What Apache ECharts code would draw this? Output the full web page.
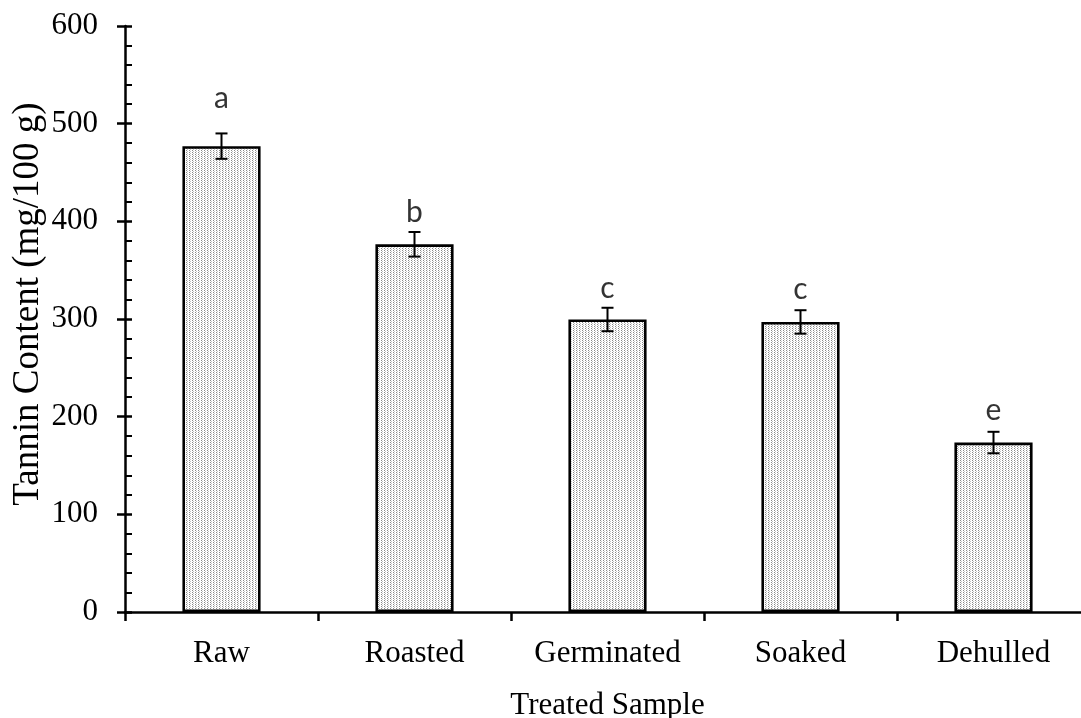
<!DOCTYPE html>
<html>
<head>
<meta charset="utf-8">
<script src="https://cdn.jsdelivr.net/npm/echarts@6/dist/echarts.min.js"></script>
<style>
html,body{margin:0;padding:0;background:#fff;}
#chart{width:1081px;height:718px;}
</style>
</head>
<body>
<div id="chart"></div>
<script>
// ---- data ----
const categories = ['Raw', 'Roasted', 'Germinated', 'Soaked', 'Dehulled'];
const tanninMeans = [477, 376.5, 299.5, 297, 173.5];
const tanninErrors = [13, 12.6, 12, 12, 11];
const significanceLetters = ['a', 'b', 'c', 'c', 'e'];
const letterPositions = [526, 409, 331, 330, 207];
const yTicks = [0, 100, 200, 300, 400, 500, 600];

// dotted fill pattern
function makePattern() {
  const c = document.createElement('canvas');
  c.width = 3; c.height = 2;
  const ctx = c.getContext('2d');
  ctx.fillStyle = '#ffffff';
  ctx.fillRect(0, 0, 3, 2);
  ctx.fillStyle = '#8a8a8a';
  ctx.fillRect(0, 0, 1, 1);
  ctx.fillStyle = '#c4c4c4';
  ctx.fillRect(1, 1, 1, 1);
  return c;
}

const serif = '"Liberation Serif", "Times New Roman", serif';
const chart = echarts.init(document.getElementById('chart'), null, {renderer: 'canvas'});

const option = {
  animation: false,
  backgroundColor: '#ffffff',
  grid: {left: 125, width: 965, top: 26, bottom: 106, containLabel: false, outerBoundsMode: 'none'},
  xAxis: {
    type: 'category',
    data: categories,
    name: 'Treated Sample',
    nameLocation: 'middle',
    nameGap: 78,
    nameMoveOverlap: false,
    nameTextStyle: {fontFamily: serif, fontSize: 31, color: '#000'},
    axisLine: {show: true, lineStyle: {color: '#000', width: 2.5}},
    axisTick: {show: true, inside: false, length: 9, lineStyle: {color: '#000', width: 2.5}},
    axisLabel: {fontFamily: serif, fontSize: 31, color: '#000', margin: 26},
    splitLine: {show: false}
  },
  yAxis: [
    {
      type: 'value',
      min: yTicks[0],
      max: yTicks[yTicks.length - 1],
      interval: 100,
      name: 'Tannin Content (mg/100 g)',
      nameLocation: 'middle',
      nameGap: 78,
      nameMoveOverlap: false,
      nameRotate: 90,
      nameTextStyle: {fontFamily: serif, fontSize: 37, color: '#000', padding: [0, 0, 0, 30]},
      axisLine: {show: true, lineStyle: {color: '#000', width: 2.5}},
      axisTick: {show: true, inside: true, length: 7, lineStyle: {color: '#000', width: 2.5}},
      minorTick: {show: true, splitNumber: 5, length: 7, lineStyle: {color: '#000', width: 2}},
      axisLabel: {fontFamily: serif, fontSize: 31, color: '#000', margin: 27},
      splitLine: {show: false},
      minorSplitLine: {show: false}
    },
    {
      type: 'value',
      min: yTicks[0],
      max: yTicks[yTicks.length - 1],
      interval: 100,
      position: 'left',
      axisLine: {show: false},
      axisTick: {show: true, inside: false, length: 8, lineStyle: {color: '#000', width: 2.5}},
      axisLabel: {show: false},
      splitLine: {show: false}
    }
  ],
  series: [
    {
      type: 'bar',
      data: tanninMeans,
      barWidth: '40.5%',
      itemStyle: {
        color: {image: makePattern(), repeat: 'repeat'},
        borderColor: '#000',
        borderWidth: 2.6
      },
      z: 2
    },
    {
      type: 'custom',
      data: tanninMeans.map((v, i) => [i, v - tanninErrors[i], v + tanninErrors[i]]),
      renderItem: function (params, api) {
        const lo = api.coord([api.value(0), api.value(1)]);
        const hi = api.coord([api.value(0), api.value(2)]);
        const hw = 6;
        const style = {stroke: '#000', lineWidth: 2};
        return {
          type: 'group',
          children: [
            {type: 'line', shape: {x1: hi[0], y1: hi[1], x2: lo[0], y2: lo[1]}, style: style},
            {type: 'line', shape: {x1: hi[0] - hw, y1: hi[1], x2: hi[0] + hw, y2: hi[1]}, style: style},
            {type: 'line', shape: {x1: lo[0] - hw, y1: lo[1], x2: lo[0] + hw, y2: lo[1]}, style: style}
          ]
        };
      },
      z: 3
    },
    {
      type: 'scatter',
      data: letterPositions.map((v, i) => [i, v]),
      symbolSize: 0,
      label: {
        show: true,
        position: 'inside',
        formatter: p => significanceLetters[p.dataIndex],
        fontFamily: 'Lato, "Open Sans", sans-serif',
        fontSize: 30,
        color: '#000'
      },
      z: 4
    }
  ]
};
chart.setOption(option);
</script>
</body>
</html>
